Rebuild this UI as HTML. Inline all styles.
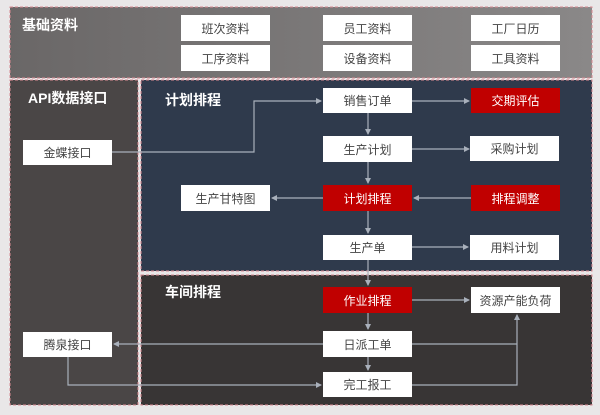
<!DOCTYPE html>
<html><head><meta charset="utf-8"><style>
body{margin:0;background:#e9e7e8;}
svg text{font-family:"Liberation Sans","Noto Sans CJK SC",sans-serif;}
</style></head><body>
<svg width="600" height="410" viewBox="0 0 600 410" xmlns="http://www.w3.org/2000/svg">
<defs>
<linearGradient id="g1" x1="0" x2="1" y1="0" y2="0"><stop offset="0" stop-color="#6a6767"/><stop offset="1" stop-color="#8a8888"/></linearGradient>
<marker id="a" markerWidth="6" markerHeight="6" refX="5" refY="3" orient="auto" markerUnits="userSpaceOnUse"><path d="M0,0 L6,3 L0,6z" fill="#a9b0bb"/></marker>
</defs>
<rect width="600" height="410" fill="#e9e7e8"/>
<rect x="10" y="7" width="582" height="71" fill="url(#g1)" stroke="#d88a92" stroke-dasharray="3,2"/>
<rect x="10" y="80" width="128" height="325" fill="#4a4646" stroke="#d88a92" stroke-dasharray="3,2"/>
<rect x="141" y="80" width="451" height="191" fill="#2f3a4c" stroke="#d88a92" stroke-dasharray="3,2"/>
<rect x="141" y="275" width="451" height="130" fill="#383535" stroke="#d88a92" stroke-dasharray="3,2"/>
<g font-size="14" font-weight="bold" fill="#fff">
<text x="22" y="30">基础资料</text>
<text x="28" y="103">API数据接口</text>
<text x="165" y="105">计划排程</text>
<text x="165" y="297">车间排程</text>
</g>
<g stroke="#a9b0bb" stroke-width="1.2" fill="none">
<path d="M112,152 H254 V101 H321" marker-end="url(#a)"/>
<path d="M412,101 H469" marker-end="url(#a)"/>
<path d="M368,113 V134" marker-end="url(#a)"/>
<path d="M412,149 H469" marker-end="url(#a)"/>
<path d="M368,162 V183" marker-end="url(#a)"/>
<path d="M471,198 H414" marker-end="url(#a)"/>
<path d="M323,198 H272" marker-end="url(#a)"/>
<path d="M368,211 V233" marker-end="url(#a)"/>
<path d="M412,247 H468" marker-end="url(#a)"/>
<path d="M368,260 V285" marker-end="url(#a)"/>
<path d="M412,300 H469" marker-end="url(#a)"/>
<path d="M368,313 V329" marker-end="url(#a)"/>
<path d="M323,344 H114" marker-end="url(#a)"/>
<path d="M412,344 H517"/>
<path d="M368,357 V370" marker-end="url(#a)"/>
<path d="M68,357 V385 H321" marker-end="url(#a)"/>
<path d="M412,385 H517 V315" marker-end="url(#a)"/>
</g>
<g font-size="12" text-anchor="middle">
<rect x="181" y="15" width="89" height="26" fill="#fff"/><text x="225.5" y="33" fill="#444">班次资料</text>
<rect x="181" y="45" width="89" height="26" fill="#fff"/><text x="225.5" y="63" fill="#444">工序资料</text>
<rect x="323" y="15" width="89" height="26" fill="#fff"/><text x="367.5" y="33" fill="#444">员工资料</text>
<rect x="323" y="45" width="89" height="26" fill="#fff"/><text x="367.5" y="63" fill="#444">设备资料</text>
<rect x="471" y="15" width="89" height="26" fill="#fff"/><text x="515.5" y="33" fill="#444">工厂日历</text>
<rect x="471" y="45" width="89" height="26" fill="#fff"/><text x="515.5" y="63" fill="#444">工具资料</text>
<rect x="23" y="140" width="89" height="25" fill="#fff"/><text x="67.5" y="157" fill="#444">金蝶接口</text>
<rect x="23" y="332" width="89" height="25" fill="#fff"/><text x="67.5" y="349" fill="#444">腾泉接口</text>
<rect x="323" y="88" width="89" height="25" fill="#fff"/><text x="367.5" y="105" fill="#444">销售订单</text>
<rect x="471" y="88" width="89" height="25" fill="#c00000"/><text x="515.5" y="105" fill="#fff">交期评估</text>
<rect x="323" y="136" width="89" height="26" fill="#fff"/><text x="367.5" y="154" fill="#444">生产计划</text>
<rect x="470" y="136" width="89" height="25" fill="#fff"/><text x="514.5" y="153" fill="#444">采购计划</text>
<rect x="181" y="185" width="89" height="26" fill="#fff"/><text x="225.5" y="203" fill="#444">生产甘特图</text>
<rect x="323" y="185" width="89" height="26" fill="#c00000"/><text x="367.5" y="203" fill="#fff">计划排程</text>
<rect x="471" y="185" width="89" height="26" fill="#c00000"/><text x="515.5" y="203" fill="#fff">排程调整</text>
<rect x="323" y="235" width="89" height="25" fill="#fff"/><text x="367.5" y="252" fill="#444">生产单</text>
<rect x="470" y="235" width="89" height="25" fill="#fff"/><text x="514.5" y="252" fill="#444">用料计划</text>
<rect x="323" y="287" width="89" height="26" fill="#c00000"/><text x="367.5" y="305" fill="#fff">作业排程</text>
<rect x="471" y="287" width="89" height="26" fill="#fff"/><text x="515.5" y="305" fill="#444">资源产能负荷</text>
<rect x="323" y="331" width="89" height="26" fill="#fff"/><text x="367.5" y="349" fill="#444">日派工单</text>
<rect x="323" y="372" width="89" height="25" fill="#fff"/><text x="367.5" y="389" fill="#444">完工报工</text>
</g>
</svg>
</body></html>
